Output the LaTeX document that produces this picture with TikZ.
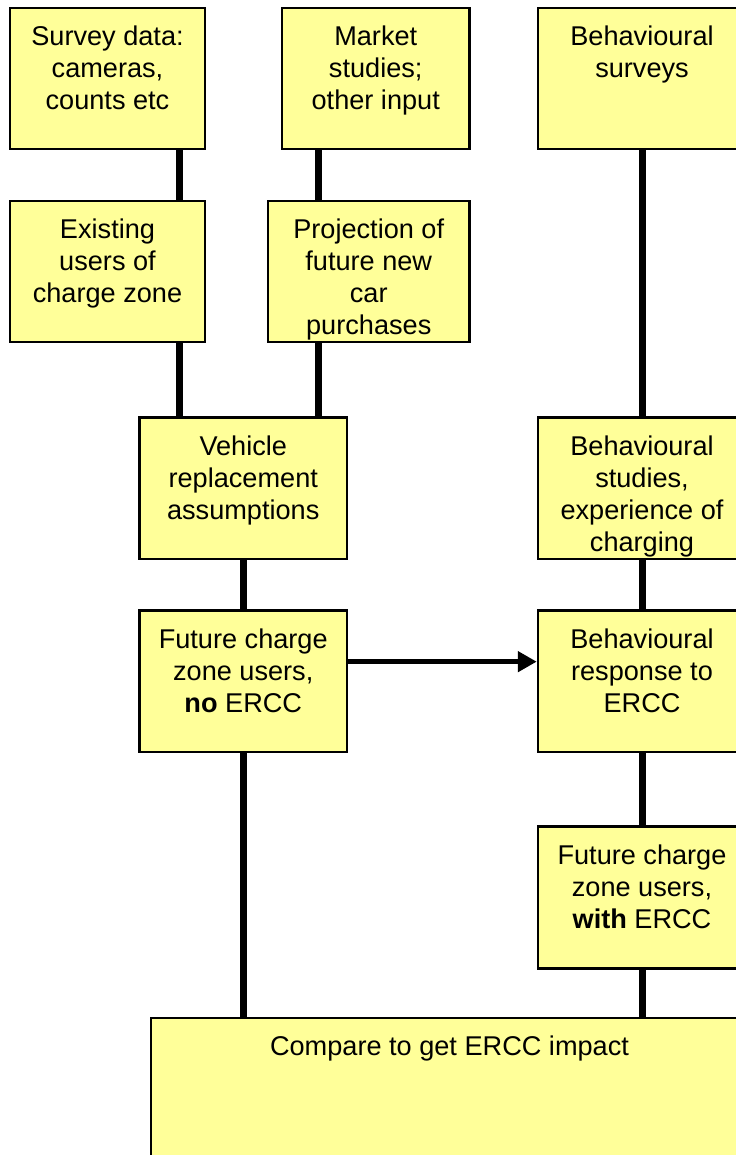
\documentclass[tikz,border=0pt]{standalone}
\usepackage{fontspec}
\setmainfont{Liberation Sans}
\usetikzlibrary{arrows.meta}
\definecolor{boxyellow}{RGB}{255,255,153}

\begin{document}
\begin{tikzpicture}[x=0.25mm, y=-0.25mm,
    font=\fontsize{19.3pt}{22.8pt}\selectfont,
    box/.style={draw, line width=0.625mm, fill=boxyellow, inner sep=0pt, minimum height=35.25mm},
    txt/.style={anchor=north, yshift=-13.5pt, align=center, inner sep=0pt},
    link/.style={line width=1.75mm},
    flow/.style={line width=1.25mm, -{Triangle[length=4.75mm, width=5mm]}}]
    \useasboundingbox (0,0) rectangle (736,1155);
    \clip (0,0) rectangle (736,1155);

    % Input data
    \node[box, minimum width=48.75mm] (sd) at (107.5,78.5) {};
    \node[txt] (sdt) at (sd.north) {Survey data:\\cameras,\\counts etc};
    \node[box, minimum width=46.875mm] (ms) at (375.75,78.5) {};
    \node[txt] (mst) at (ms.north) {Market\\studies;\\other input};
    \node[box, minimum width=52mm] (bs) at (642,78.5) {};
    \node[txt] (bst) at (bs.north) {Behavioural\\surveys};

    % Second row
    \node[box, minimum width=48.75mm] (eu) at (107.5,271.5) {};
    \node[txt] (eut) at (eu.north) {Existing\\users of\\charge zone};
    \node[box, minimum width=50.375mm] (pr) at (368.75,271.5) {};
    \node[txt] (prt) at (pr.north) {Projection of\\future new\\car\\purchases};

    % Assumptions and studies
    \node[box, minimum width=51.875mm, minimum height=35.375mm] (vr) at (243.25,488.25) {};
    \node[txt] (vrt) at (vr.north) {Vehicle\\replacement\\assumptions};
    \node[box, minimum width=52mm, minimum height=35.375mm] (bc) at (642,488.25) {};
    \node[txt] (bct) at (bc.north) {Behavioural\\studies,\\experience of\\charging};

    % Future users and response
    \node[box, minimum width=51.875mm, minimum height=35.375mm] (fn) at (243.25,681.25) {};
    \node[txt] (fnt) at (fn.north) {Future charge\\zone users,\\\textbf{no} ERCC};
    \node[box, minimum width=52mm, minimum height=35.375mm] (br) at (642,681.25) {};
    \node[txt] (brt) at (br.north) {Behavioural\\response to\\ERCC};
    \node[box, minimum width=52mm, minimum height=35.5mm] (fw) at (642,897.5) {};
    \node[txt] (fwt) at (fw.north) {Future charge\\zone users,\\\textbf{with} ERCC};

    % Comparison
    \node[box, minimum width=149.25mm, minimum height=38mm] (cmp) at (449.5,1094) {};
    \node[txt] (cmpt) at (cmp.north) {Compare to get ERCC impact};

    % Connectors
    \coordinate (c1) at ([xshift=-6.65mm]sd.south east);
    \draw[link] (c1) -- (c1 |- eu.north);
    \draw[link] (c1 |- eu.south) -- (c1 |- vr.north);
    \coordinate (c2) at ([xshift=-14.2mm]ms.south);
    \draw[link] (c2) -- (c2 |- pr.north);
    \draw[link] (c2 |- pr.south) -- (c2 |- vr.north);
    \draw[link] (vr.south) -- (fn.north);
    \draw[link] (fn.south) -- (fn.south |- cmp.north);
    \draw[link] (bs.south) -- (bc.north);
    \draw[link] (bc.south) -- (br.north);
    \draw[link] (br.south) -- (fw.north);
    \draw[link] (fw.south) -- (fw.south |- cmp.north);

    % Arrow to response
    \coordinate (a1) at ([yshift=4.9mm]fn.east);
    \draw[flow] (a1) -- (a1 -| br.west);
\end{tikzpicture}
\end{document}
